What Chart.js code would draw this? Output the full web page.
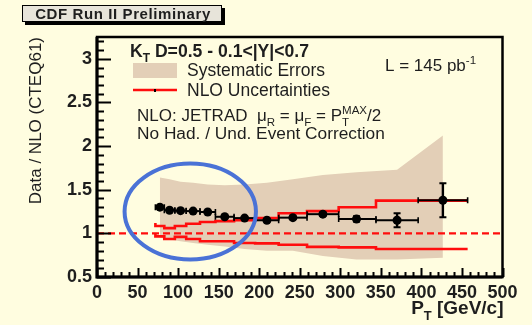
<!DOCTYPE html>
<html><head><meta charset="utf-8">
<script src="https://cdn.jsdelivr.net/npm/chart.js@4/dist/chart.umd.min.js"></script>
<style>
html,body{margin:0;padding:0;background:#fffde0;}
#wrap{width:532px;height:325px;position:relative;}
</style></head><body>
<div id="wrap"><canvas id="c" width="532" height="325"></canvas></div>
<script>
// Jet pT bins (GeV/c)
const binLow    = [72, 83, 96, 110, 127, 146, 169, 195, 224, 259, 298, 344, 396];
const binHigh   = [83, 96, 110, 127, 146, 169, 195, 224, 259, 298, 344, 396, 457];
const binCenter = [77.5, 89.5, 103, 118.5, 136.5, 157.5, 182, 209.5, 241.5, 278.5, 320, 370, 426.5];
// Data / NLO ratio and statistical errors
const ratio   = [1.30, 1.265, 1.26, 1.255, 1.245, 1.19, 1.175, 1.15, 1.18, 1.22, 1.165, 1.15, 1.38];
const statErr = [0.01, 0.01, 0.01, 0.01, 0.01, 0.012, 0.012, 0.015, 0.015, 0.02, 0.03, 0.08, 0.195];
// Systematic error band edges at the bin centers
const sysUpper = [1.64, 1.62, 1.59, 1.58, 1.56, 1.55, 1.56, 1.58, 1.62, 1.67, 1.70, 1.73, 2.12];
const sysLower = [0.95, 0.93, 0.91, 0.89, 0.87, 0.85, 0.82, 0.80, 0.80, 0.74, 0.70, 0.70, 0.72];
// NLO uncertainty envelope, one value per bin
const nloUpper = [1.12, 1.085, 1.06, 1.085, 1.11, 1.13, 1.14, 1.15, 1.175, 1.23, 1.255, 1.30, 1.375];
const nloLower = [1.00, 0.965, 0.935, 0.96, 0.935, 0.91, 0.91, 0.89, 0.885, 0.87, 0.845, 0.84, 0.82];
// Axis tick values
const xTickValues = [0, 50, 100, 150, 200, 250, 300, 350, 400, 450, 500];
const yTickValues = [0.5, 1, 1.5, 2, 2.5, 3];
// Highlighted region (data units) outlined by the ellipse
const focusX = [34, 196];
const focusY = [0.70, 1.80];

const FONT = "'Liberation Sans', Arial, Helvetica, sans-serif";
const CREAM = '#fffde0';
const TAN = '#e3cfb7';
const RED = '#ff0d0d';

function stepPoints(vals) {
  const pts = binLow.map((x, i) => ({ x, y: vals[i] }));
  pts.push({ x: binHigh[binHigh.length - 1], y: vals[vals.length - 1] });
  return pts;
}

// Text with optional subscript / superscript pieces
function drawRich(ctx, x, y, parts, size, weight, color) {
  ctx.save();
  ctx.fillStyle = color;
  ctx.textBaseline = 'alphabetic';
  ctx.textAlign = 'left';
  let cx = x;
  for (const p of parts) {
    if (p.t !== undefined) {
      ctx.font = `${weight} ${size}px ${FONT}`;
      ctx.fillText(p.t, cx, y);
      cx += ctx.measureText(p.t).width;
    } else {
      const s = size * 0.68;
      ctx.font = `${weight} ${s}px ${FONT}`;
      let w = 0;
      if (p.sub) { ctx.fillText(p.sub, cx, y + size * 0.3); w = Math.max(w, ctx.measureText(p.sub).width); }
      if (p.sup) { ctx.fillText(p.sup, cx, y - size * 0.42); w = Math.max(w, ctx.measureText(p.sup).width); }
      cx += w;
    }
  }
  ctx.restore();
  return cx;
}

const decor = {
  id: 'decor',
  beforeDraw(chart) {
    const ctx = chart.ctx;
    ctx.save();
    ctx.fillStyle = CREAM;
    ctx.fillRect(0, 0, chart.width, chart.height);
    ctx.restore();
  },
  beforeDatasetDraw(chart, args) {
    if (args.index !== 0) return;
    // error bars under the data markers
    const ctx = chart.ctx, xs = chart.scales.x, ys = chart.scales.y;
    ctx.save();
    ctx.strokeStyle = '#000';
    for (let i = 0; i < ratio.length; i++) {
      const y = ys.getPixelForValue(ratio[i]);
      const x0 = xs.getPixelForValue(binLow[i]), x1 = xs.getPixelForValue(binHigh[i]);
      const xc = xs.getPixelForValue(binCenter[i]);
      ctx.lineWidth = 2;
      ctx.beginPath(); ctx.moveTo(x0, y); ctx.lineTo(x1, y); ctx.stroke();
      ctx.lineWidth = 1.6;
      ctx.beginPath();
      ctx.moveTo(x0, y - 3); ctx.lineTo(x0, y + 3);
      ctx.moveTo(x1, y - 3); ctx.lineTo(x1, y + 3);
      ctx.stroke();
      const yt = ys.getPixelForValue(ratio[i] + statErr[i]);
      const yb = ys.getPixelForValue(ratio[i] - statErr[i]);
      ctx.lineWidth = 2.4;
      ctx.beginPath(); ctx.moveTo(xc, yt); ctx.lineTo(xc, yb); ctx.stroke();
      ctx.lineWidth = 2;
      ctx.beginPath();
      ctx.moveTo(xc - 3.5, yt); ctx.lineTo(xc + 3.5, yt);
      ctx.moveTo(xc - 3.5, yb); ctx.lineTo(xc + 3.5, yb);
      ctx.stroke();
    }
    ctx.restore();
  },
  afterDatasetsDraw(chart) {
    const ctx = chart.ctx, xs = chart.scales.x, ys = chart.scales.y;
    const a = chart.chartArea;
    ctx.save();
    // highlight ellipse
    const ex0 = xs.getPixelForValue(focusX[0]), ex1 = xs.getPixelForValue(focusX[1]);
    const ey0 = ys.getPixelForValue(focusY[1]), ey1 = ys.getPixelForValue(focusY[0]);
    ctx.strokeStyle = '#4a72d6';
    ctx.lineWidth = 4;
    ctx.beginPath();
    ctx.ellipse((ex0 + ex1) / 2, (ey0 + ey1) / 2, (ex1 - ex0) / 2, (ey1 - ey0) / 2, 0, 0, Math.PI * 2);
    ctx.stroke();

    // inward tick marks
    ctx.strokeStyle = '#000';
    ctx.lineWidth = 2;
    ctx.beginPath();
    for (let k = 0; ; k++) {
      const v = ys.min + k * 0.1;
      if (v > ys.max + 1e-9) break;
      const major = Math.abs(v * 2 - Math.round(v * 2)) < 1e-6;
      const py = Math.round(ys.getPixelForValue(v)) + 0.5;
      ctx.moveTo(a.left, py); ctx.lineTo(a.left + (major ? 14 : 7), py);
    }
    for (let k = 0; ; k++) {
      const v = xs.min + k * 10;
      if (v > xs.max + 1e-9) break;
      const major = v % 50 === 0;
      const px = Math.round(xs.getPixelForValue(v)) + 0.5;
      ctx.moveTo(px, a.bottom); ctx.lineTo(px, a.bottom - (major ? 9 : 5));
    }
    ctx.stroke();

    // frame
    ctx.lineWidth = 2.5;
    ctx.strokeRect(a.left, a.top, a.right - a.left, a.bottom - a.top);
    ctx.lineWidth = 3;
    ctx.beginPath();
    ctx.moveTo(a.left, a.top); ctx.lineTo(a.left, a.bottom); ctx.lineTo(a.right, a.bottom);
    ctx.stroke();
    ctx.restore();
  },
  afterDraw(chart) {
    const ctx = chart.ctx;
    const a = chart.chartArea;
    const ink = '#1e1e1e';
    // legend and run information
    drawRich(ctx, a.left + 33, 57, [{ t: 'K' }, { sub: 'T' }, { t: ' D=0.5 - 0.1<|Y|<0.7' }], 17.6, 'bold', ink);
    ctx.save();
    ctx.fillStyle = TAN;
    ctx.fillRect(a.left + 36, 63, 44, 15);
    ctx.strokeStyle = RED;
    ctx.lineWidth = 2.6;
    ctx.beginPath(); ctx.moveTo(a.left + 36, 90); ctx.lineTo(a.left + 80, 90); ctx.stroke();
    ctx.fillStyle = '#000';
    ctx.fillRect(a.left + 57, 89, 2, 3);
    ctx.restore();
    drawRich(ctx, a.left + 90, 76, [{ t: 'Systematic Errors' }], 17.5, 'normal', ink);
    drawRich(ctx, a.left + 90, 96, [{ t: 'NLO Uncertainties' }], 17.5, 'normal', ink);
    drawRich(ctx, a.left + 288, 71, [{ t: 'L = 145 pb' }, { sup: '-1' }], 17, 'normal', ink);
    drawRich(ctx, a.left + 40, 121, [{ t: 'NLO: JETRAD  \u03bc' }, { sub: 'R' }, { t: ' = \u03bc' }, { sub: 'F' },
      { t: ' = P' }, { sub: 'T', sup: 'MAX' }, { t: '/2' }], 17, 'normal', ink);
    drawRich(ctx, a.left + 40, 139, [{ t: 'No Had. / Und. Event Correction' }], 17.3, 'normal', ink);

    // x axis title, right aligned with the frame
    ctx.save();
    ctx.font = `bold 19px ${FONT}`;
    const w1 = ctx.measureText('P').width, w2 = ctx.measureText(' [GeV/c]').width;
    ctx.font = `bold ${19 * 0.68}px ${FONT}`;
    const wsub = ctx.measureText('T').width;
    ctx.restore();
    drawRich(ctx, a.right + 1 - (w1 + w2 + wsub), 314, [{ t: 'P' }, { sub: 'T' }, { t: ' [GeV/c]' }], 19, 'bold', ink);

    // preliminary label box
    ctx.save();
    ctx.fillStyle = '#000';
    ctx.fillRect(25, 8, 200, 17);
    ctx.fillStyle = '#e7e4da';
    ctx.fillRect(22, 5, 200, 17);
    ctx.strokeStyle = '#000';
    ctx.lineWidth = 1;
    ctx.strokeRect(22.5, 5.5, 199, 16);
    ctx.fillStyle = ink;
    ctx.font = `bold 15px ${FONT}`;
    ctx.textAlign = 'center';
    ctx.textBaseline = 'alphabetic';
    ctx.letterSpacing = '0.6px';
    ctx.fillText('CDF Run II Preliminary', 123, 19);
    ctx.restore();
  }
};

new Chart(document.getElementById('c'), {
  type: 'line',
  data: {
    datasets: [
      { label: 'Data', type: 'scatter', data: binCenter.map((x, i) => ({ x, y: ratio[i] })),
        pointRadius: 4.5, pointHoverRadius: 4.5, pointBackgroundColor: '#000', pointBorderColor: '#000',
        pointBorderWidth: 0, showLine: false, order: 1 },
      { label: 'NLO upper', data: stepPoints(nloUpper), stepped: 'after', borderColor: RED,
        borderWidth: 2.6, pointRadius: 0, fill: false, order: 2 },
      { label: 'NLO lower', data: stepPoints(nloLower), stepped: 'after', borderColor: RED,
        borderWidth: 2.6, pointRadius: 0, fill: false, order: 2 },
      { label: 'Unity', data: [{ x: 0, y: 1 }, { x: 500, y: 1 }], borderColor: RED, borderWidth: 2.2,
        borderDash: [7, 4], pointRadius: 0, fill: false, order: 3 },
      { label: 'Systematic upper', data: binCenter.map((x, i) => ({ x, y: sysUpper[i] })),
        borderColor: 'rgba(0,0,0,0)', borderWidth: 1, backgroundColor: TAN, pointRadius: 0,
        fill: '+1', tension: 0, order: 4 },
      { label: 'Systematic lower', data: binCenter.map((x, i) => ({ x, y: sysLower[i] })),
        borderColor: 'rgba(0,0,0,0)', borderWidth: 1, pointRadius: 0, fill: false, order: 5 }
    ]
  },
  options: {
    responsive: false,
    animation: false,
    events: [],
    layout: { padding: { top: 37, right: 29.5, left: 0, bottom: 0 } },
    plugins: { legend: { display: false }, tooltip: { enabled: false } },
    scales: {
      x: {
        type: 'linear', min: 0, max: 500,
        grid: { display: false, drawTicks: false }, border: { display: false },
        afterBuildTicks: s => { s.ticks = xTickValues.map(v => ({ value: v })); },
        afterFit: s => { s.height = 48; },
        ticks: { autoSkip: false, maxRotation: 0, padding: 5, color: '#1e1e1e',
                 callback: v => String(v),
                 font: { family: FONT, size: 18, weight: 'bold' } }
      },
      y: {
        type: 'linear', min: 0.5, max: 3.25,
        grid: { display: false, drawTicks: false }, border: { display: false },
        afterBuildTicks: s => { s.ticks = yTickValues.map(v => ({ value: v })); },
        afterFit: s => { s.width = 97; },
        ticks: { padding: 5, color: '#1e1e1e', callback: v => String(v),
                 font: { family: FONT, size: 18, weight: 'bold' } },
        title: { display: true, text: 'Data / NLO (CTEQ61)', align: 'end', color: '#1e1e1e',
                 font: { family: FONT, size: 17 }, padding: { top: 26, bottom: 0 } }
      }
    }
  },
  plugins: [decor]
});
</script>
</body></html>
